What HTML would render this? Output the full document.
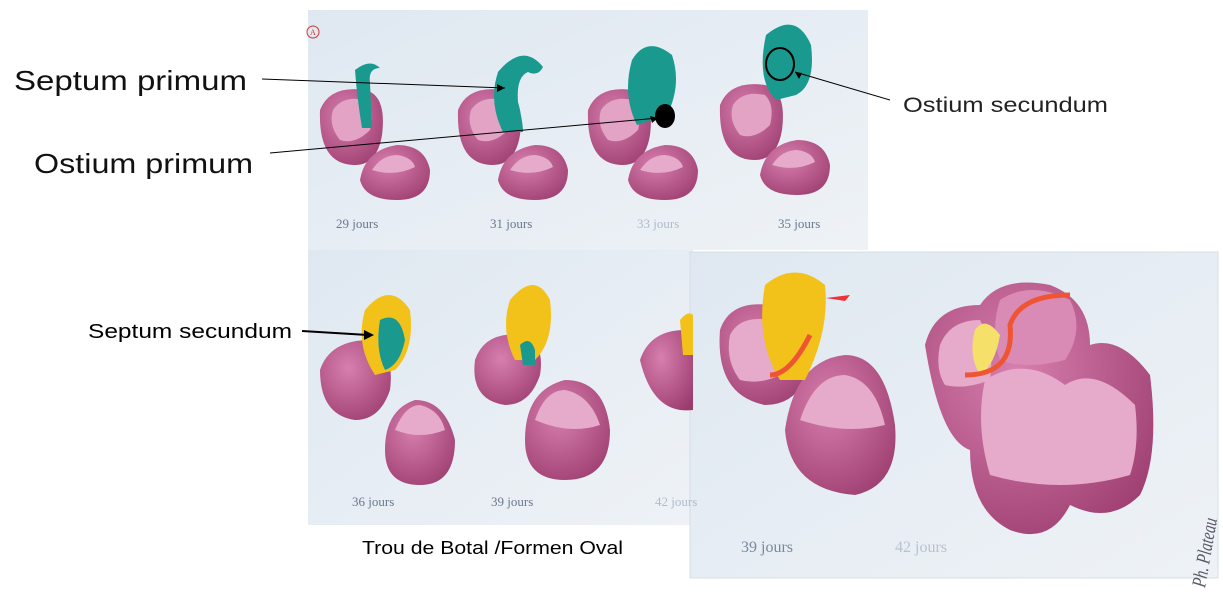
<!DOCTYPE html><html><head><style>
body{margin:0;width:1223px;height:595px;background:#fff;overflow:hidden;font-family:"Liberation Sans",sans-serif}
</style></head><body>
<svg width="1223" height="595" viewBox="0 0 1223 595" xmlns="http://www.w3.org/2000/svg">
<defs>
<linearGradient id="bg" x1="0" y1="0" x2="1" y2="1"><stop offset="0" stop-color="#dfe8f1"/><stop offset="1" stop-color="#eef2f6"/></linearGradient>
<radialGradient id="pk" cx="0.4" cy="0.35" r="0.8"><stop offset="0" stop-color="#d77fae"/><stop offset="1" stop-color="#9a3a6d"/></radialGradient>
</defs>
<rect x="308" y="10" width="560" height="240" fill="url(#bg)"/>
<rect x="308" y="250" width="385" height="275" fill="url(#bg)"/>
<rect x="690" y="252" width="528" height="326" fill="url(#bg)" stroke="#d8dde3"/>
<circle cx="313" cy="32" r="6" fill="none" stroke="#c33" stroke-width="1"/><text x="310" y="35" font-size="8" fill="#c33" font-family="Liberation Serif">A</text>
<g>
<path d="M320 110 q10-25 45-20 q22 5 17 45 q-5 30-27 30 q-37 0-35-55z" fill="url(#pk)"/>
<path d="M333 110 q10-15 32-10 q10 10 5 30 q-15 15-30 10 q-12-15-7-30z" fill="#e2a3c5"/>
<path d="M360 180 q5-30 37-35 q28 0 33 25 q0 30-33 30 q-32 0-37-20z" fill="url(#pk)"/>
<path d="M372 170 q10-15 25-15 q15 2 18 12 q-20 10-43 3z" fill="#e6aacb"/>
<path d="M355 70 q15-12 25-2 q-12 0-10 15 l2 45 -10 0 q-5-30-7-58z" fill="#1a9a8e"/>
</g>
<g transform="translate(138,0)"><path d="M320 110 q10-25 45-20 q22 5 17 45 q-5 30-27 30 q-37 0-35-55z" fill="url(#pk)"/><path d="M333 110 q10-15 32-10 q10 10 5 30 q-15 15-30 10 q-12-15-7-30z" fill="#e2a3c5"/><path d="M360 180 q5-30 37-35 q28 0 33 25 q0 30-33 30 q-32 0-37-20z" fill="url(#pk)"/><path d="M372 170 q10-15 25-15 q15 2 18 12 q-20 10-43 3z" fill="#e6aacb"/></g>
<path d="M498 72 q25-30 45-5 q-5 10-15 5 q-12 5-10 30 q5 20 5 30 l-20 0 q-15-30-5-60z" fill="#1a9a8e"/>
<g transform="translate(268,0)"><path d="M320 110 q10-25 45-20 q22 5 17 45 q-5 30-27 30 q-37 0-35-55z" fill="url(#pk)"/><path d="M333 110 q10-15 32-10 q10 10 5 30 q-15 15-30 10 q-12-15-7-30z" fill="#e2a3c5"/><path d="M360 180 q5-30 37-35 q28 0 33 25 q0 30-33 30 q-32 0-37-20z" fill="url(#pk)"/><path d="M372 170 q10-15 25-15 q15 2 18 12 q-20 10-43 3z" fill="#e6aacb"/></g>
<path d="M632 60 q15-25 40-5 q10 30-5 60 l-30 10 q-15-30-5-65z" fill="#1a9a8e"/>
<ellipse cx="665" cy="116" rx="10" ry="12" fill="#000"/>
<g transform="translate(400,-5)"><path d="M320 110 q10-25 45-20 q22 5 17 45 q-5 30-27 30 q-37 0-35-55z" fill="url(#pk)"/><path d="M333 110 q10-15 32-10 q10 10 5 30 q-15 15-30 10 q-12-15-7-30z" fill="#e2a3c5"/><path d="M360 180 q5-30 37-35 q28 0 33 25 q0 30-33 30 q-32 0-37-20z" fill="url(#pk)"/><path d="M372 170 q10-15 25-15 q15 2 18 12 q-20 10-43 3z" fill="#e6aacb"/></g>
<path d="M766 35 q30-25 45 10 q5 40-15 50 l-20 5 q-20-20-10-65z" fill="#1a9a8e"/>
<ellipse cx="780" cy="64" rx="14" ry="16" fill="none" stroke="#000" stroke-width="2"/>
<g font-family="Liberation Serif" font-size="13" fill="#6a7890">
<text x="336" y="228">29 jours</text><text x="490" y="228">31 jours</text><text x="637" y="228" fill="#b0bccb">33 jours</text><text x="778" y="228">35 jours</text>
<text x="352" y="506">36 jours</text><text x="491" y="506">39 jours</text><text x="655" y="506" fill="#b0bccb">42 jours</text>
<text x="741" y="552" font-size="16" fill="#7a889c">39 jours</text><text x="895" y="552" font-size="16" fill="#b8c2cf">42 jours</text>
</g>
<g>
<path d="M320 370 q10-30 50-30 q25 10 20 50 q-10 30-35 30 q-35-5-35-50z" fill="url(#pk)"/>
<path d="M385 450 q0-40 30-50 q30 0 40 40 q0 45-35 45 q-35 0-35-35z" fill="url(#pk)"/>
<path d="M395 430 q10-25 25-25 q20 5 25 25 q-25 10-50 0z" fill="#e6aacb"/>
<path d="M365 310 q25-30 45 0 q5 40-15 60 l-20 5 q-20-30-10-65z" fill="#f2c21a"/>
<path d="M380 320 q20-10 25 20 q-5 25-20 30 q-10-20-5-50z" fill="#1a9a8e"/>
</g>
<g>
<path d="M475 360 q10-30 50-25 q20 10 15 40 q-10 30-35 30 q-35-5-30-45z" fill="url(#pk)"/>
<path d="M525 440 q0-50 40-60 q40 0 45 50 q0 50-45 50 q-40 0-40-40z" fill="url(#pk)"/>
<path d="M535 420 q10-30 30-30 q25 5 35 35 q-30 10-65-5z" fill="#e6aacb"/>
<path d="M510 300 q25-30 40 0 q5 40-15 60 l-20 0 q-15-30-5-60z" fill="#f2c21a"/>
<path d="M520 345 q10-10 15 5 l0 15 -12 0z" fill="#1a9a8e"/>
</g>
<path d="M640 360 q10-30 45-30 l8 0 0 80 q-40 5-53-50z" fill="url(#pk)"/>
<path d="M680 320 q8-10 13-5 l0 40 -10 0z" fill="#f2c21a"/>
<path d="M720 330 q10-30 50-25 q40 20 40 60 q-10 40-45 40 q-50-10-45-75z" fill="url(#pk)"/>
<path d="M730 335 q10-20 40-15 q20 20 10 55 q-20 10-40 5 q-15-20-10-45z" fill="#e6aacb"/>
<path d="M785 430 q10-70 60-75 q40 0 50 70 q5 60-40 70 q-65-5-70-65z" fill="url(#pk)"/>
<path d="M800 420 q15-45 45-45 q30 5 40 50 q-40 10-85-5z" fill="#e6aacb"/>
<path d="M765 285 q30-25 60 0 q5 45-20 95 l-25 0 q-25-40-15-95z" fill="#f2c21a"/>
<path d="M770 375 q20 0 40-40" stroke="#e53" stroke-width="5" fill="none"/>
<path d="M826 298 l24-3 l-5 6z" fill="#e33"/>
<path d="M925 345 q10-40 55-40 q20-30 70-20 q40 15 40 60 q30-10 60 30 q10 80-10 120 q-30 30-70 10 q-20 40-60 25 q-40-20-40-80 q-30-10-45-105z" fill="url(#pk)"/>
<path d="M940 345 q10-25 40-25 q15 30 10 60 q-25 10-45 5 q-10-15-5-40z" fill="#e6aacb"/>
<path d="M1000 300 q30-20 70 0 q15 30-5 60 q-40 10-65 0 q-10-30 0-60z" fill="#d98bb5"/>
<path d="M985 380 q40-25 80 5 q30-20 70 20 q5 40-5 70 q-70 20-140 0 q-15-50-5-95z" fill="#e6aacb"/>
<path d="M975 330 q10-15 25 5 q-5 30-20 40 q-12-20-5-45z" fill="#f5e06a"/>
<path d="M965 375 q50 0 45-50 q10-30 60-30" stroke="#e53" stroke-width="5" fill="none"/>
<text x="1205" y="588" transform="rotate(-80 1205 588)" font-family="Liberation Serif" font-style="italic" font-size="20" fill="#556" textLength="70" lengthAdjust="spacingAndGlyphs">Ph. Plateau</text>
<g stroke="#000" stroke-width="1" fill="none">
<line x1="262" y1="79" x2="505" y2="88"/><line x1="270" y1="153" x2="658" y2="118"/><line x1="890" y1="100" x2="795" y2="72"/>
</g>
<path d="M505 88 l-8-4 0 8z M658 118 l-8-2 2 7z M795 72 l4 7 3-6z" fill="#000"/>
<line x1="302" y1="331" x2="368" y2="335" stroke="#000" stroke-width="2"/><path d="M374 335 l-10-5 0 10z" fill="#000"/>
<text x="14" y="90" font-size="28" fill="#111" textLength="233" lengthAdjust="spacingAndGlyphs">Septum primum</text>
<text x="34" y="173" font-size="28" fill="#111" textLength="219" lengthAdjust="spacingAndGlyphs">Ostium primum</text>
<text x="903" y="112" font-size="21" fill="#222" textLength="205" lengthAdjust="spacingAndGlyphs">Ostium secundum</text>
<text x="88" y="338" font-size="20" fill="#000" textLength="204" lengthAdjust="spacingAndGlyphs">Septum secundum</text>
<text x="362" y="554" font-size="18" fill="#000" textLength="261" lengthAdjust="spacingAndGlyphs">Trou de Botal /Formen Oval</text>
</svg>
</body></html>
